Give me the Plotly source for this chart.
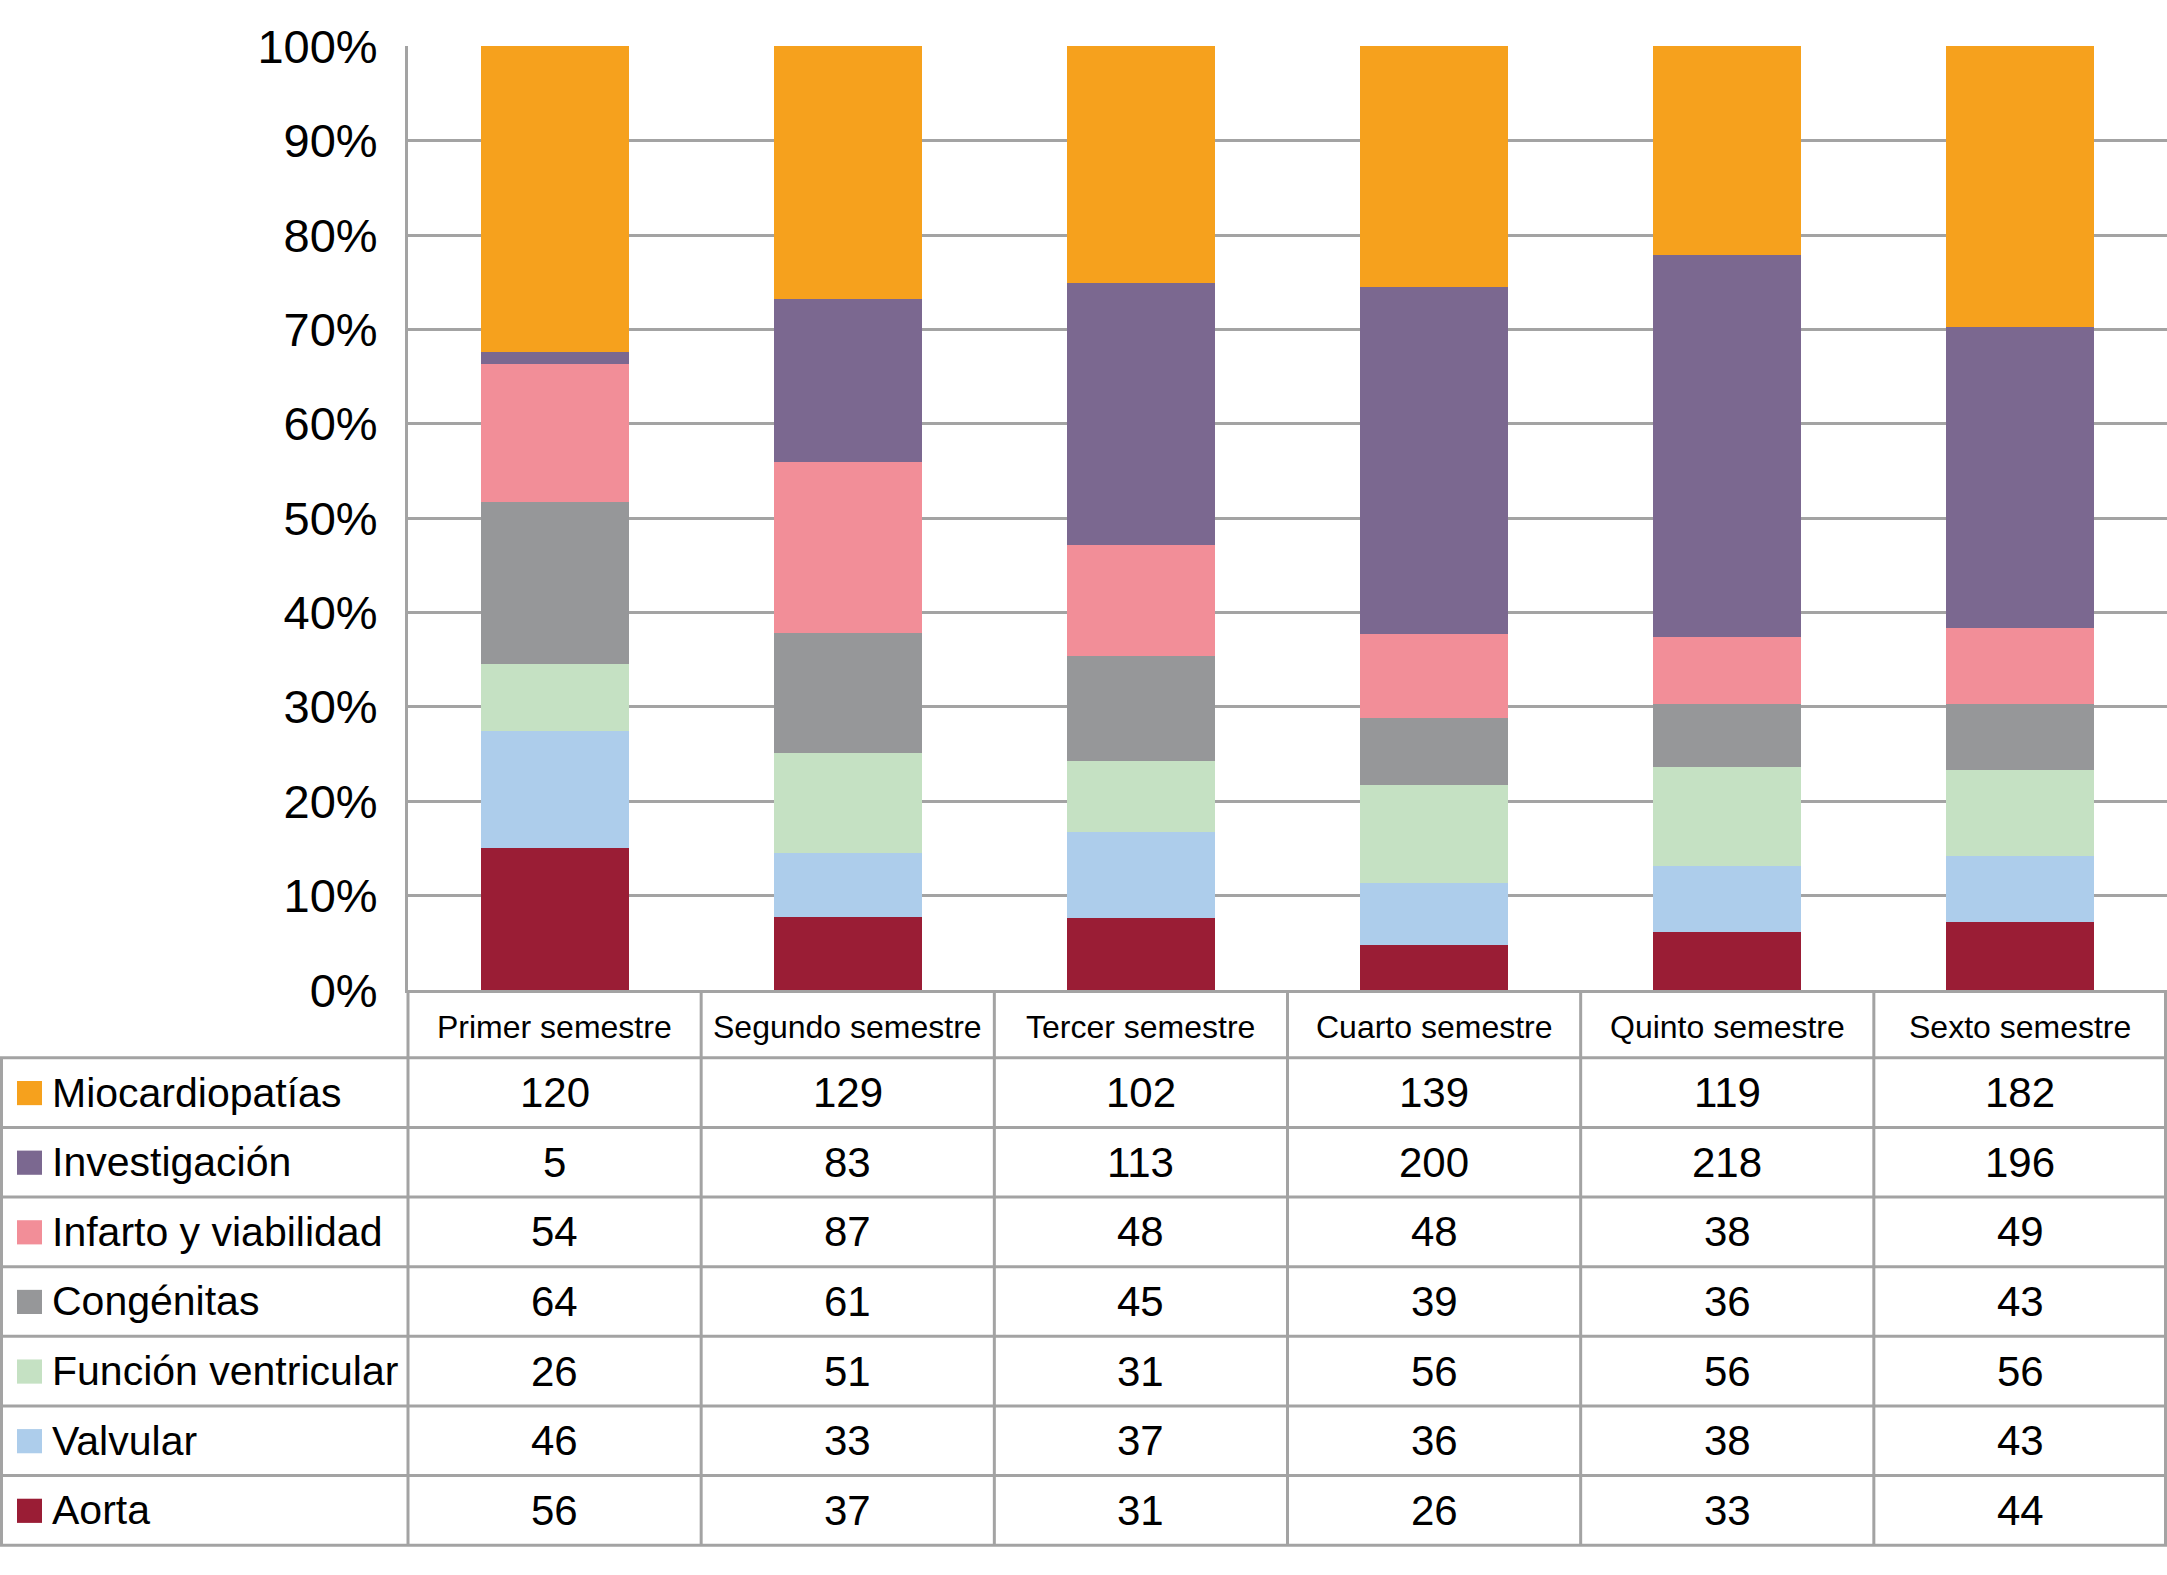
import numpy as np
import plotly.graph_objects as go

# ---------------- data ----------------
semesters = ["Primer semestre", "Segundo semestre", "Tercer semestre",
             "Cuarto semestre", "Quinto semestre", "Sexto semestre"]

# table order (top to bottom)
series_names = ["Miocardiopatías", "Investigación", "Infarto y viabilidad",
                "Congénitas", "Función ventricular", "Valvular", "Aorta"]
miocardiopatias = [120, 129, 102, 139, 119, 182]
investigacion = [5, 83, 113, 200, 218, 196]
infarto = [54, 87, 48, 48, 38, 49]
congenitas = [64, 61, 45, 39, 36, 43]
funcion_ventricular = [26, 51, 31, 56, 56, 56]
valvular = [46, 33, 37, 36, 38, 43]
aorta = [56, 37, 31, 26, 33, 44]
series_values = [miocardiopatias, investigacion, infarto, congenitas,
                 funcion_ventricular, valvular, aorta]
series_colors = ["#F6A11D", "#7B6890", "#F28E98", "#969799",
                 "#C5E1C3", "#ADCDEB", "#9A1D35"]
y_ticks = list(range(0, 101, 10))
y_tick_labels = [f"{t}%" for t in y_ticks]

# ---------------- layout geometry ----------------
W, H = 2167, 1575
FONT = "Liberation Sans, Arial, sans-serif"
GRID = "#A3A3A3"
axis_left_px = 408
zero_px = 997
top_px = 21
header_bottom_px = 1067
row_h = 72
n_cat = len(semesters)
col_w = (W - axis_left_px) / n_cat


def px(x):
    return x / W


def py(y):
    return 1 - y / H


totals = np.sum(np.array(series_values), axis=0)

fig = go.Figure()
# stack from bottom (Aorta) to top (Miocardiopatías)
for name, vals, col in reversed(list(zip(series_names, series_values, series_colors))):
    pct = np.array(vals) / totals * 100
    fig.add_trace(go.Bar(x=semesters, y=pct, name=name, marker_color=col,
                         marker_line_width=0, showlegend=False))

shapes = []
annotations = []

# horizontal table lines
for k in range(len(series_names) + 1):
    yy = header_bottom_px + k * row_h
    shapes.append(dict(type="line", xref="paper", yref="paper",
                       x0=0, x1=1, y0=py(yy), y1=py(yy),
                       line=dict(color=GRID, width=3)))
# vertical table lines
shapes.append(dict(type="line", xref="paper", yref="paper",
                   x0=px(1.5), x1=px(1.5), y0=py(header_bottom_px),
                   y1=py(header_bottom_px + len(series_names) * row_h),
                   line=dict(color=GRID, width=3)))
for k in range(n_cat + 1):
    xx = axis_left_px + k * col_w
    if k == n_cat:
        xx = W - 1.5
    shapes.append(dict(type="line", xref="paper", yref="paper",
                       x0=px(xx), x1=px(xx), y0=py(zero_px),
                       y1=py(header_bottom_px + len(series_names) * row_h),
                       line=dict(color=GRID, width=3)))

# header labels
for i, s in enumerate(semesters):
    annotations.append(dict(x=s, xref="x", y=py((zero_px + header_bottom_px) / 2 + 3),
                            yref="paper", text=s, showarrow=False,
                            font=dict(family=FONT, size=32, color="black"),
                            xanchor="center", yanchor="middle"))

# rows
for r, (name, vals, col) in enumerate(zip(series_names, series_values, series_colors)):
    yc = header_bottom_px + r * row_h + row_h / 2
    shapes.append(dict(type="rect", xref="paper", yref="paper",
                       x0=px(17), x1=px(42), y0=py(yc - 12), y1=py(yc + 13),
                       fillcolor=col, line=dict(width=0)))
    annotations.append(dict(x=px(50), xref="paper", y=py(yc), yref="paper",
                            text=name, showarrow=False,
                            font=dict(family=FONT, size=41, color="black"),
                            xanchor="left", yanchor="middle"))
    for s, v in zip(semesters, vals):
        annotations.append(dict(x=s, xref="x", y=py(yc), yref="paper",
                                text=str(v), showarrow=False,
                                font=dict(family=FONT, size=42, color="black"),
                                xanchor="center", yanchor="middle"))

fig.update_layout(
    width=W, height=H,
    margin=dict(l=0, r=0, t=0, b=0),
    paper_bgcolor="white", plot_bgcolor="white",
    barmode="stack", bargap=0.495,
    shapes=shapes, annotations=annotations,
    font=dict(family=FONT, color="black"),
    xaxis=dict(domain=[px(axis_left_px), 1], showticklabels=False,
               showgrid=False, showline=True, linecolor=GRID, linewidth=3,
               ticks="", range=[-0.5, n_cat - 0.5], fixedrange=True),
    yaxis=dict(domain=[py(zero_px), py(top_px - 0.5)], range=[0, 100.05],
               tickvals=y_ticks, ticktext=y_tick_labels,
               tickfont=dict(family=FONT, size=47, color="black"),
               showgrid=True, gridcolor=GRID, gridwidth=3,
               showline=True, linecolor=GRID, linewidth=3,
               zeroline=False, ticks="", ticklabelstandoff=18,
               ticklabeloverflow="allow"),
)

fig.write_html(
    "out.html",
    config={"displayModeBar": False},
    post_script="document.body.style.margin='0';document.body.style.overflow='hidden';",
)
